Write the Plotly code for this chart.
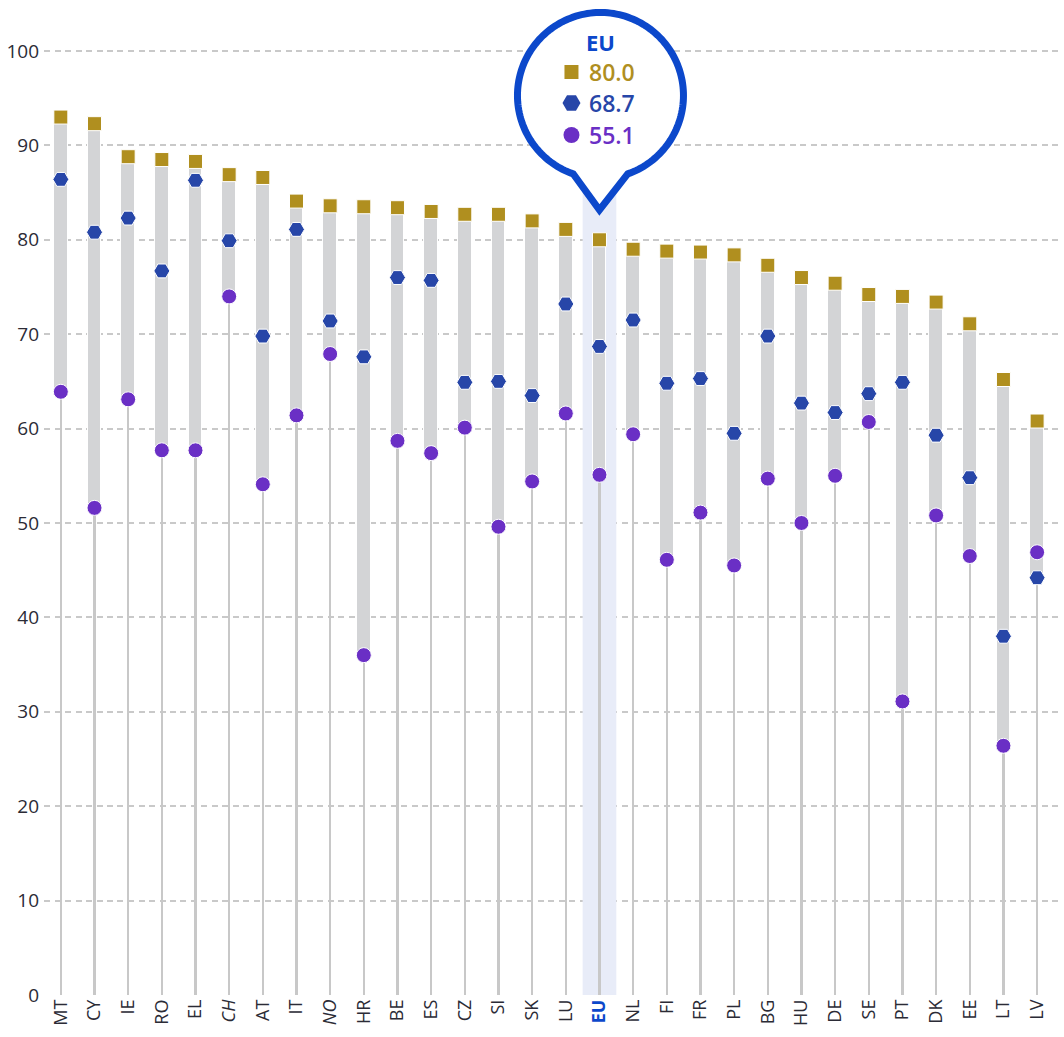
import numpy as np
import plotly.graph_objects as go

# ---- data -----------------------------------------------------------------
countries = ["MT", "CY", "IE", "RO", "EL", "CH", "AT", "IT", "NO", "HR",
             "BE", "ES", "CZ", "SI", "SK", "LU", "EU", "NL", "FI", "FR",
             "PL", "BG", "HU", "DE", "SE", "PT", "DK", "EE", "LT", "LV"]

square_vals = [93.0, 92.3, 88.8, 88.5, 88.3, 86.9, 86.6, 84.1, 83.6, 83.5,
               83.4, 83.0, 82.7, 82.7, 82.0, 81.1, 80.0, 79.0, 78.8, 78.7,
               78.4, 77.3, 76.0, 75.4, 74.2, 74.0, 73.4, 71.1, 65.2, 60.8]

hexagon_vals = [86.4, 80.8, 82.3, 76.7, 86.3, 79.9, 69.8, 81.1, 71.4, 67.6,
                76.0, 75.7, 64.9, 65.0, 63.5, 73.2, 68.7, 71.5, 64.8, 65.3,
                59.5, 69.8, 62.7, 61.7, 63.7, 64.9, 59.3, 54.8, 38.0, 44.2]

circle_vals = [63.9, 51.6, 63.1, 57.7, 57.7, 74.0, 54.1, 61.4, 67.9, 36.0,
               58.7, 57.4, 60.1, 49.6, 54.4, 61.6, 55.1, 59.4, 46.1, 51.1,
               45.5, 54.7, 50.0, 55.0, 60.7, 31.1, 50.8, 46.5, 26.4, 46.9]

y_ticks = [0, 10, 20, 30, 40, 50, 60, 70, 80, 90, 100]
italic_codes = ["CH", "NO"]
focus = "EU"

# ---- styling --------------------------------------------------------------
GOLD = "#b08f1f"
BLUE = "#2746a8"
PURPLE = "#6a2fc5"
ACCENT = "#0c48cb"
BAND = "#e8ecf8"
BAR_GREY = "#d3d4d6"
STEM_GREY = "#c8c8c8"
GRID = "#c9c9c9"
TEXT = "#2b2b36"
FONT = "Open Sans"

# ---- geometry -------------------------------------------------------------
FIG_W, FIG_H = 1064, 1037
M_L, M_R, M_T, M_B = 44, 4, 0, 42
X_RANGE = [-0.5, 29.68]
Y_RANGE = [0, 105.4]
plot_w = FIG_W - M_L - M_R
plot_h = FIG_H - M_T - M_B
px_per_x = plot_w / (X_RANGE[1] - X_RANGE[0])
px_per_y = plot_h / (Y_RANGE[1] - Y_RANGE[0])

n = len(countries)
xs = list(range(n))
fi = countries.index(focus)

top = np.array(square_vals)
mid = np.array(hexagon_vals)
low = np.array(circle_vals)
lo = np.minimum(np.minimum(top, mid), low)
hi = np.maximum(np.maximum(top, mid), low)


def at(dx_px, y_px):
    """Point given as a pixel offset from the focus column and a pixel row."""
    return fi + dx_px / px_per_x, Y_RANGE[1] - (y_px - M_T) / px_per_y


tick_text = []
for c in countries:
    if c == focus:
        tick_text.append(f"<span style='color:{ACCENT}'><b>{c}</b></span>")
    elif c in italic_codes:
        tick_text.append(f"<i>{c}</i>")
    else:
        tick_text.append(c)

fig = go.Figure()

# thin stems from zero up to the lowest value
fig.add_trace(go.Bar(
    x=xs, y=lo, base=0, width=2.2 / px_per_x,
    marker=dict(color=STEM_GREY, line=dict(width=0)),
    hoverinfo="skip", showlegend=False,
))

# range bars between lowest and highest value
fig.add_trace(go.Bar(
    x=xs, y=hi - lo, base=lo, width=13.8 / px_per_x,
    marker=dict(color=BAR_GREY, line=dict(color="white", width=1)),
    hoverinfo="skip", showlegend=False,
))

fig.add_trace(go.Scatter(
    x=xs, y=top, mode="markers",
    marker=dict(symbol="square", size=14, color=GOLD,
                line=dict(color="white", width=1)),
    hoverinfo="skip", showlegend=False,
))
fig.add_trace(go.Scatter(
    x=xs, y=mid, mode="markers",
    marker=dict(symbol="hexagon2", size=16, color=BLUE,
                line=dict(color="white", width=1)),
    hoverinfo="skip", showlegend=False,
))
fig.add_trace(go.Scatter(
    x=xs, y=low, mode="markers",
    marker=dict(symbol="circle", size=15, color=PURPLE,
                line=dict(color="white", width=1)),
    hoverinfo="skip", showlegend=False,
))

# ---- focus band and speech bubble -----------------------------------------
band_top = at(0, 178)[1]
shapes = [dict(type="rect", xref="x", yref="y", layer="between",
               x0=fi - 0.5, x1=fi + 0.5, y0=0, y1=band_top,
               fillcolor=BAND, line=dict(width=0))]

cx, cy, r = 1.0, 95.5, 83.0
tip = (0.0, 210.0)
a0 = np.degrees(np.arctan2(78.4, 27.2))   # right arm meets the circle here
a1 = 180 - a0 - 360                        # left arm, going round over the top
angles = np.radians(np.linspace(a0, a1, 160))
pts = [at(cx + r * np.cos(t), cy + r * np.sin(t)) for t in angles]
pts.append(at(*tip))
path = "M " + " L ".join(f"{px:.5f},{py:.5f}" for px, py in pts) + " Z"
shapes.append(dict(type="path", xref="x", yref="y", layer="between",
                   path=path, fillcolor="white",
                   line=dict(color=ACCENT, width=7)))

# legend keys inside the bubble
rows = [72, 103, 135]
key_x, _ = at(-28, 0)
key_y = [at(0, yy)[1] for yy in rows]
for sym, col, sz, yy in [("square", GOLD, 14, key_y[0]),
                         ("hexagon2", BLUE, 18, key_y[1]),
                         ("circle", PURPLE, 16, key_y[2])]:
    fig.add_trace(go.Scatter(
        x=[key_x], y=[yy], mode="markers",
        marker=dict(symbol=sym, size=sz, color=col, line=dict(width=0)),
        hoverinfo="skip", showlegend=False,
    ))

eu_vals = [square_vals[fi], hexagon_vals[fi], circle_vals[fi]]
annotations = [dict(x=at(1, 0)[0], y=at(0, 42)[1], xref="x", yref="y",
                    text=f"<b>{focus}</b>", showarrow=False,
                    xanchor="center", yanchor="middle",
                    font=dict(family=FONT, size=22, color=ACCENT))]
for val, col, yy in zip(eu_vals, [GOLD, BLUE, PURPLE], key_y):
    annotations.append(dict(
        x=at(-12, 0)[0], y=yy, xref="x", yref="y",
        text=f"{val:.1f}", showarrow=False,
        xanchor="left", yanchor="middle",
        font=dict(family=FONT, size=23, color=col, weight=600)))

fig.update_layout(
    width=FIG_W, height=FIG_H,
    margin=dict(l=M_L, r=M_R, t=M_T, b=M_B, pad=0),
    paper_bgcolor="white", plot_bgcolor="white",
    barmode="overlay", bargap=0,
    showlegend=False,
    shapes=shapes, annotations=annotations,
    font=dict(family=FONT, color=TEXT),
    xaxis=dict(
        range=X_RANGE, tickmode="array", tickvals=xs, ticktext=tick_text,
        tickangle=-90, tickfont=dict(size=18, color=TEXT),
        showgrid=False, zeroline=False, showline=False, ticks="",
        fixedrange=True,
    ),
    yaxis=dict(
        range=Y_RANGE, tickmode="array", tickvals=y_ticks,
        tickfont=dict(size=19, color=TEXT),
        showgrid=True, gridcolor=GRID, gridwidth=1.5, griddash="6px,4.5px",
        zeroline=False, showline=False, ticks="", ticklabelstandoff=4,
        fixedrange=True,
    ),
)

fig.write_html("out.html", config={"displayModeBar": False})
